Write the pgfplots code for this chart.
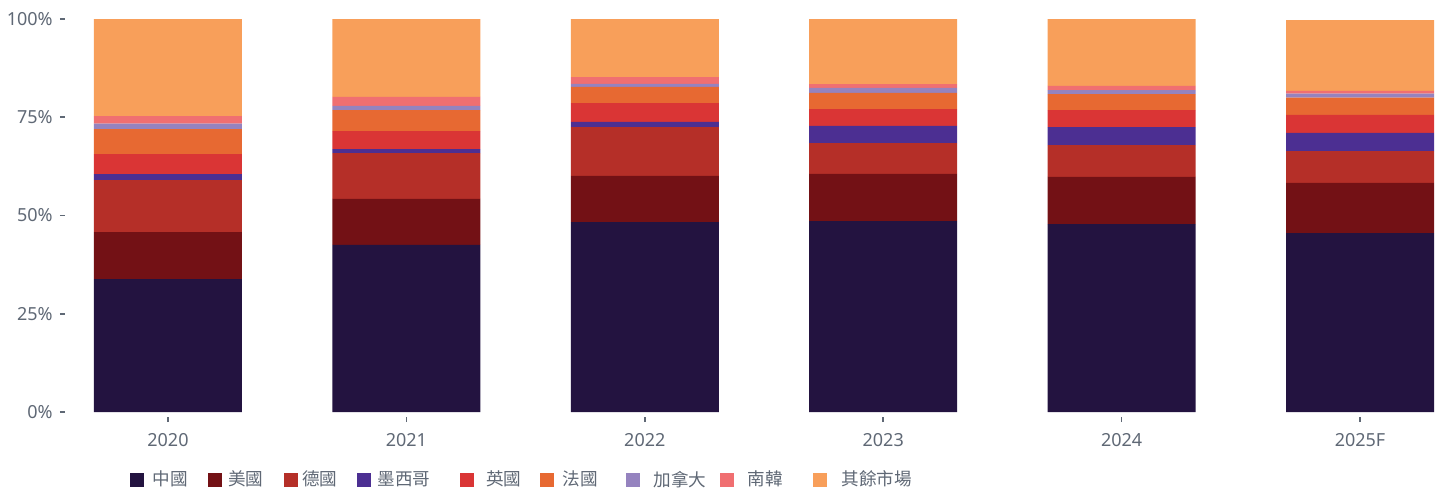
\documentclass[border=0pt]{standalone}
\usepackage{fontspec}
\setmainfont{Noto Sans}
\newfontfamily\cjk{Noto Sans CJK TC}
\usepackage{pgfplots}
\pgfplotsset{compat=1.18}
\definecolor{cCN}{HTML}{231340}
\definecolor{cUS}{HTML}{731115}
\definecolor{cDE}{HTML}{B52F28}
\definecolor{cMX}{HTML}{4C2F92}
\definecolor{cUK}{HTML}{DA3535}
\definecolor{cFR}{HTML}{E76932}
\definecolor{cCA}{HTML}{9583BF}
\definecolor{cKR}{HTML}{F06F71}
\definecolor{cOT}{HTML}{F89F5A}
\definecolor{tgray}{HTML}{5F6875}
\newcommand{\gap}[1]{\rule{#1}{0pt}}
\begin{document}
\begin{tikzpicture}
\useasboundingbox (-35pt,-38.5pt) rectangle (684.5pt,206pt);
\begin{axis}[
  scale only axis,
  width=684.5pt, height=196.5pt,
  xmin=-0.411, xmax=5.3314, ymin=0, ymax=100,
  ybar stacked, bar width=74pt,
  axis x line*=bottom, axis y line*=left,
  axis line style={draw=none},
  tick align=outside, major tick length=2.5pt,
  x tick style={yshift=-2.5pt, tgray, line width=0.8pt},
  y tick style={xshift=-2.5pt, tgray, line width=0.8pt},
  xtick={0,1,2,3,4,5},
  xticklabels={2020,2021,2022,2023,2024,2025F},
  ytick={0,25,50,75,100},
  yticklabels={0\%,25\%,50\%,75\%,100\%},
  xticklabel style={font=\fontsize{9}{11}\selectfont, text=tgray, inner sep=0pt, anchor=north, yshift=-8pt},
  yticklabel style={font=\fontsize{9}{11}\selectfont, text=tgray, inner sep=0pt, anchor=east, xshift=-6pt},
  legend columns=-1,
  legend image code/.code={\fill[#1] (0pt,-3.5pt) rectangle (7pt,3.5pt);},
  legend style={at={(0.04383,-0.1730)}, anchor=west, draw=none, fill=none,
    inner sep=0pt, outer sep=0pt, column sep=0pt,
    nodes={inner sep=0pt, outer sep=0pt, text=tgray, font=\cjk\fontsize{8.8}{10}\selectfont}},
]
\addplot[fill=cCN, draw=none] coordinates {(0,33.8) (1,42.5) (2,48.3) (3,48.6) (4,47.8) (5,45.5)};
\addlegendentry{\gap{4.5pt}中國\gap{10pt}}
\addplot[fill=cUS, draw=none] coordinates {(0,12.0) (1,11.7) (2,11.8) (3,12.0) (4,12.0) (5,12.8)};
\addlegendentry{\gap{3pt}美國\gap{10.5pt}}
\addplot[fill=cDE, draw=none] coordinates {(0,13.2) (1,11.7) (2,12.4) (3,7.8) (4,8.1) (5,8.1)};
\addlegendentry{\gap{2pt}德國\gap{9.5pt}}
\addplot[fill=cMX, draw=none] coordinates {(0,1.5) (1,1.0) (2,1.3) (3,4.4) (4,4.6) (5,4.6)};
\addlegendentry{\gap{3.5pt}墨西哥\gap{15pt}}
\addplot[fill=cUK, draw=none] coordinates {(0,5.1) (1,4.6) (2,4.8) (3,4.3) (4,4.3) (5,4.6)};
\addlegendentry{\gap{6pt}英國\gap{9pt}}
\addplot[fill=cFR, draw=none] coordinates {(0,6.4) (1,5.3) (2,4.1) (3,4.1) (4,4.1) (5,4.4)};
\addlegendentry{\gap{4.5pt}法國\gap{14pt}}
\addplot[fill=cCA, draw=none] coordinates {(0,1.4) (1,1.1) (2,0.8) (3,1.3) (4,1.0) (5,1.0)};
\addlegendentry{\gap{7pt}加拿大\gap{6.5pt}}
\addplot[fill=cKR, draw=none] coordinates {(0,1.9) (1,2.3) (2,1.7) (3,0.9) (4,1.1) (5,0.7)};
\addlegendentry{\gap{7pt}南韓\gap{15pt}}
\addplot[fill=cOT, draw=none] coordinates {(0,24.7) (1,19.8) (2,14.8) (3,16.6) (4,17.0) (5,18.0)};
\addlegendentry{\gap{7.5pt}其餘市場}
\end{axis}
\end{tikzpicture}
\end{document}
